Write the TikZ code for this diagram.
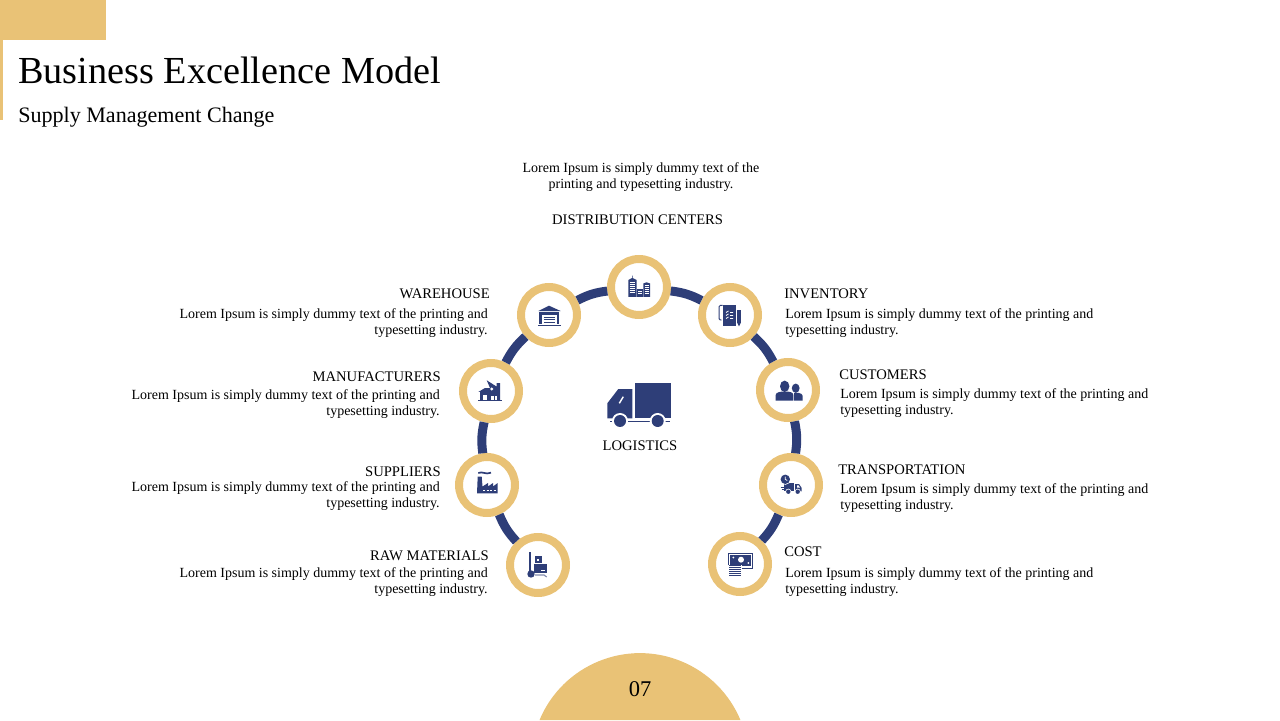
\documentclass[tikz,border=0pt]{standalone}
\usepackage{fontspec}
\setmainfont{Liberation Serif}
\usetikzlibrary{calc}
\definecolor{navyc}{HTML}{2E3E78}
\definecolor{goldc}{HTML}{E9C276}
\tikzset{
	ringnode/.style={circle, draw=goldc, line width=0.2cm, fill=white, minimum size=1.4cm, inner sep=0pt},
	ringlink/.style={draw=navyc, line width=0.225cm},
	headtext/.style={inner sep=0pt, font=\fontsize{10.4}{12}\selectfont},
	bodytext/.style={inner sep=0pt, font=\fontsize{9.95}{11.4}\selectfont, align=#1},
	icon/.style={shift={#1}, x=0.025cm, y=0.025cm}
}

\begin{document}
\begin{tikzpicture}
	\useasboundingbox (0,0) rectangle (32,18);
	
	%%%%% HEADER %%%%%
	\fill[goldc] (0,17) rectangle (2.65,18);
	\fill[goldc] (0,15) rectangle (0.075,17);
	\node[anchor=base west, inner sep=0pt, font=\fontsize{27.2}{32}\selectfont] (title) at (0.45,15.9) {Business Excellence Model};
	\node[anchor=base west, inner sep=0pt, font=\fontsize{15.7}{18}\selectfont] (subtitle) at (0.45,14.93) {Supply Management Change};
	
	%%%%% RING %%%%%
	\node[ringnode] (raw) at (13.45,3.875) {};
	\node[ringnode] (suppliers) at (12.175,5.875) {};
	\node[ringnode] (manufacturers) at (12.275,8.225) {};
	\node[ringnode] (warehouse) at (13.725,10.125) {};
	\node[ringnode] (distribution) at (15.975,10.825) {};
	\node[ringnode] (inventory) at (18.25,10.125) {};
	\node[ringnode] (customers) at (19.7,8.25) {};
	\node[ringnode] (transport) at (19.775,5.875) {};
	\node[ringnode] (cost) at (18.5,3.9) {};
	
	\foreach \a/\b in {raw/suppliers, suppliers/manufacturers, manufacturers/warehouse, warehouse/distribution, distribution/inventory, inventory/customers, customers/transport, transport/cost}
		\draw[ringlink] (\a) to[bend left=10] (\b);
	
	%%%%% LABELS %%%%%
	\node[bodytext=center] (distributiontext) at (16.025,13.58) {Lorem Ipsum is simply dummy text of the\\printing and typesetting industry.};
	\node[headtext, anchor=base] (distributionhead) at (15.94,12.375) {DISTRIBUTION CENTERS};
	
	\node[headtext, anchor=base east] (warehousehead) at (12.25,10.53) {WAREHOUSE};
	\node[bodytext=right, anchor=east] (warehousetext) at (12.2,9.925) {Lorem Ipsum is simply dummy text of the printing and\\typesetting industry.};
	\node[headtext, anchor=base east] (manufacturershead) at (11.025,8.455) {MANUFACTURERS};
	\node[bodytext=right, anchor=east] (manufacturerstext) at (11,7.9) {Lorem Ipsum is simply dummy text of the printing and\\typesetting industry.};
	\node[headtext, anchor=base east] (suppliershead) at (11.025,6.08) {SUPPLIERS};
	\node[bodytext=right, anchor=east] (supplierstext) at (11,5.6) {Lorem Ipsum is simply dummy text of the printing and\\typesetting industry.};
	\node[headtext, anchor=base east] (rawhead) at (12.225,3.98) {RAW MATERIALS};
	\node[bodytext=right, anchor=east] (rawtext) at (12.2,3.45) {Lorem Ipsum is simply dummy text of the printing and\\typesetting industry.};
	
	\node[headtext, anchor=base west] (inventoryhead) at (19.6,10.53) {INVENTORY};
	\node[bodytext=left, anchor=west] (inventorytext) at (19.625,9.925) {Lorem Ipsum is simply dummy text of the printing and\\typesetting industry.};
	\node[headtext, anchor=base west] (customershead) at (20.975,8.505) {CUSTOMERS};
	\node[bodytext=left, anchor=west] (customerstext) at (21,7.925) {Lorem Ipsum is simply dummy text of the printing and\\typesetting industry.};
	\node[headtext, anchor=base west] (transporthead) at (20.95,6.13) {TRANSPORTATION};
	\node[bodytext=left, anchor=west] (transporttext) at (21,5.55) {Lorem Ipsum is simply dummy text of the printing and\\typesetting industry.};
	\node[headtext, anchor=base west] (costhead) at (19.6,4.08) {COST};
	\node[bodytext=left, anchor=west] (costtext) at (19.625,3.45) {Lorem Ipsum is simply dummy text of the printing and\\typesetting industry.};
	
	\node[headtext, anchor=base] (logisticshead) at (16,6.73) {LOGISTICS};
	
	%%%%% FOOTER %%%%%
	\fill[goldc] (13.488,0) arc[start angle=157.3, end angle=22.7, radius=2.7225] -- cycle;
	\node[anchor=base, inner sep=0pt, font=\fontsize{16}{19}\selectfont] (pagenumber) at (16,0.6) {07};
	
	%%%%% ICONS %%%%%
	% warehouse
	\begin{scope}[icon={(13.725,10.125)}]
		\fill[navyc] (-10.7,4) -- (0,9.3) -- (11.7,4) -- cycle;
		\fill[navyc] (-10,2.7) rectangle (10.3,-9.3);
		\fill[white] (-7,0) rectangle (7.7,-9.3);
		\foreach \y in {-2,-4.7,-7.3}
			\draw[navyc, line width=0.7pt] (-5,\y) -- (6,\y);
		\draw[navyc, line width=0.6pt] (-10.7,-10.3) -- (11.7,-10.3);
	\end{scope}
	
	% distribution centers
	\begin{scope}[icon={(15.975,10.825)}]
		\fill[navyc] (-10.7,-10) -- (-10.7,7) -- (-6.9,9) -- (-6.9,11.3) -- (-6.5,11.3) -- (-6.5,9) -- (-2.3,7) -- (-2.3,-10) -- cycle;
		\fill[navyc] (-2.3,-10) rectangle (4.3,-2);
		\fill[navyc] (4.3,-10) -- (4.3,3.5) -- (7.5,4.7) -- (11,3.5) -- (11,-10) -- cycle;
		\foreach \y in {4.5,2.5,0.5,-1.5,-3.5,-5.5}
			\draw[white, line width=0.4pt] (-9.3,\y) -- (-3.7,\y);
		\foreach \y in {1.5,-0.5,-2.5,-4.5,-6.5}
			\draw[white, line width=0.4pt] (5.5,\y) -- (9.8,\y);
		\foreach \y in {-4,-6}
			\draw[white, line width=0.4pt] (-1,\y) -- (3,\y);
	\end{scope}
	
	% manufacturers
	\begin{scope}[icon={(12.275,8.225)}]
		\fill[navyc] (-12.7,-1) -- (-6,3) -- (-1,3) -- (-4.3,10.7) -- (5.5,4.5) -- (5.5,8) -- (9,8) -- (9,-9) -- (-11,-9) -- (-11,-1) -- cycle;
		\fill[white] (0.7,2) circle (1.7);
		\fill[white] (-8.3,-4.5) rectangle (-4.3,-9);
		\fill[white] (0,-5) rectangle (2.5,-9);
		\fill[white] (3.5,-5) rectangle (6,-9);
		\draw[navyc, line width=0.6pt] (-12.7,-9.7) -- (10.7,-9.7);
	\end{scope}
	
	% inventory
	\begin{scope}[icon={(18.25,10.125)}]
		\fill[navyc] (-7.5,9.7) -- (5.7,9.7) -- (5.7,-10.7) -- (-7.5,-10.7) -- cycle;
		\draw[navyc, line width=0.7pt, rounded corners=1pt] (-7.5,9.7) -- (-11,9.7) -- (-11,-5) -- (-8.5,-5);
		\draw[white, line width=0.6pt] (-7.5,8) -- (-7.5,-3);
		\foreach \y in {2.5,-0.5,-3.5}
			\draw[white, line width=0.6pt] (-4,\y) -- (-1.5,{\y+1.5}) (0,\y) -- (3,\y);
		\fill[navyc] (7.3,5.3) rectangle (10.7,-8);
		\fill[navyc] (7.3,-8) -- (9,-11.3) -- (10.7,-8) -- cycle;
	\end{scope}
	
	% customers
	\begin{scope}[icon={(19.7,8.25)}]
		\fill[navyc] (7.7,1.8) ellipse (3.9 and 4.6);
		\fill[navyc] (6,-10.7) -- (6,-2.9) .. controls (8,-2.3) and (14.7,-2.7) .. (14.7,-6) -- (14.7,-10.7) -- cycle;
		\fill[white] (5.3,-10.7) rectangle (6,-2);
		\fill[navyc] (-3.3,3.7) ellipse (4.7 and 5.7);
		\fill[navyc] (-12.3,-10.7) -- (-12.3,-5) .. controls (-12.3,-2) and (-7,-1.5) .. (-3.3,-1.5) .. controls (1,-1.5) and (5.3,-2) .. (5.3,-5) -- (5.3,-10.7) -- cycle;
	\end{scope}
	
	% suppliers
	\begin{scope}[icon={(12.175,5.875)}]
		\fill[navyc] (-10,-8.3) -- (-9.3,8.3) -- (-5.3,8.3) -- (-4.5,-1.5) -- (1,2) -- (1,-1.5) -- (6,2) -- (6,-1.5) -- (10.7,2) -- (10.7,-8.3) -- cycle;
		\draw[navyc, line width=1.2pt] (-8.7,12) .. controls (-4,14) and (-2,10) .. (4,12.3);
		\foreach \x in {-4,-0.5,3,6.5}
			\draw[white, line width=0.6pt] (\x,-5.5) -- ({\x+2},-5.5);
	\end{scope}
	
	% raw materials
	\begin{scope}[icon={(13.45,3.875)}]
		\draw[navyc, line width=1pt] (-9,12.7) -- (-8,12.7) -- (-8,-7);
		\fill[navyc] (-7,-9) circle (3.7);
		\fill[navyc] (-3.3,9) rectangle (4,1.7);
		\fill[navyc] (-4,0.7) rectangle (8.7,-8.3);
		\fill[white] (-1,6.5) rectangle (1,4.5);
		\draw[white, line width=0.6pt] (3,-5.5) -- (7,-5.5);
		\draw[navyc!60, line width=0.8pt] (-3,-10) -- (6,-10) -- (8.7,-12);
	\end{scope}
	
	% transportation
	\begin{scope}[icon={(19.775,5.875)}]
		\fill[navyc] (-7,2) rectangle (2.7,-6.3);
		\fill[navyc] (4,1) -- (8,1) -- (10.7,-3) -- (10.7,-6.3) -- (4,-6.3) -- cycle;
		\fill[white] (6,-0.3) -- (7.5,-0.3) -- (9,-2.6) -- (6,-2.6) -- cycle;
		\fill[white] (-5.7,5.7) circle (5.5);
		\fill[navyc] (-5.7,5.7) circle (4.7);
		\draw[white, line width=0.5pt] (-5.7,8.5) -- (-5.7,5.7) -- (-3.8,4.5);
		\foreach \x in {-2.7,6.7} {
			\fill[white] (\x,-6.7) circle (3);
			\fill[navyc] (\x,-6.7) circle (2.2);
		}
		\draw[navyc, line width=0.7pt] (-10.3,-2.3) -- (-7.5,-2.3) (-9.5,-4.7) -- (-7.5,-4.7);
	\end{scope}
	
	% cost
	\begin{scope}[icon={(18.5,3.9)}]
		\draw[navyc, line width=0.6pt] (-12,11) rectangle (12.7,-4);
		\fill[navyc] (-10,9.3) rectangle (10.7,-1.7);
		\fill[white] (1,4.3) circle (3);
		\fill[white] (-6.7,6.5) circle (1);
		\fill[white] (8.3,1) circle (1);
		\fill[white] (-12,-0.7) rectangle (2,-14);
		\foreach \y in {-1.5,-3.5,-5.5,-7.5,-9.5,-11.5}
			\draw[navyc, line width=1pt] (-10.7,\y) -- (1,\y);
	\end{scope}
	
	% logistics
	\begin{scope}[icon={(16,7.875)}]
		\fill[navyc] (-5,21.7) rectangle (30.7,-13.3);
		\fill[navyc] (-32.7,1.7) -- (-21.7,16) -- (-7.7,16) -- (-7.7,-13.3) -- (-32.7,-13.3) -- cycle;
		\draw[white, line width=1pt] (-16.7,8.3) -- (-20.7,1.7);
		\draw[navyc, line width=1pt] (-30,-16.7) -- (30,-16.7);
		\foreach \x in {-20,17.7} {
			\fill[white] (\x,-16) circle (8);
			\fill[navyc] (\x,-16) circle (6);
		}
	\end{scope}
\end{tikzpicture}
\end{document}
